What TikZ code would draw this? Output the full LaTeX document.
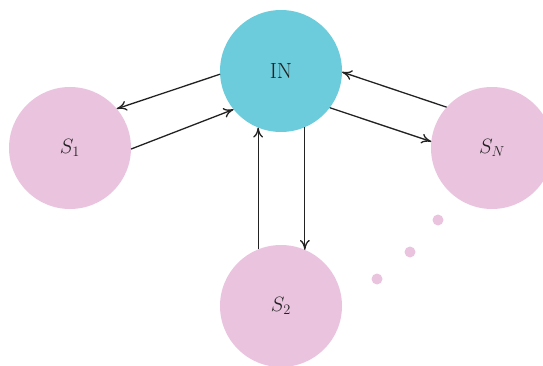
\documentclass[tikz,border=0pt]{standalone}
\usetikzlibrary{arrows.meta}
\definecolor{hubcyan}{RGB}{109,204,220}
\definecolor{statepink}{RGB}{234,196,223}
\definecolor{ink}{RGB}{34,34,34}
\begin{document}
\begin{tikzpicture}[x=1pt,y=-1pt,
  state/.style={circle,fill=statepink,minimum size=122pt,inner sep=0pt,outer sep=0pt,
    text=ink,font=\fontsize{22}{26}\selectfont},
  hub/.style={state,fill=hubcyan},
  link/.style={draw=ink,line width=1.3pt,-{To[length=10pt,width=10pt]}},
  moredot/.style={circle,fill=statepink,minimum size=11pt,inner sep=0pt}]
  \useasboundingbox (0,0) rectangle (543,366);
  \node[hub]   (in) at (281,71)  {IN};
  \node[state] (s1) at (70,148)  {$S_1$};
  \node[state] (sn) at (492,148) {$S_N$};
  \node[state] (s2) at (281,306) {$S_2$};
  % remaining states S_3 ... S_{N-1}
  \node[moredot] (d1) at (438,220) {};
  \node[moredot] (d2) at (410,252) {};
  \node[moredot] (d3) at (377,279) {};
  % exchanges between the hub and each state
  \draw[link] (in.183) -- (s1.40);
  \draw[link] (s1.-1)  -- (in.219);
  \draw[link] (sn.138) -- (in.-1);
  \draw[link] (in.-37) -- (sn.174);
  \draw[link] (in.-67) -- (s2.67);
  \draw[link] (s2.112) -- (in.248);
\end{tikzpicture}
\end{document}
